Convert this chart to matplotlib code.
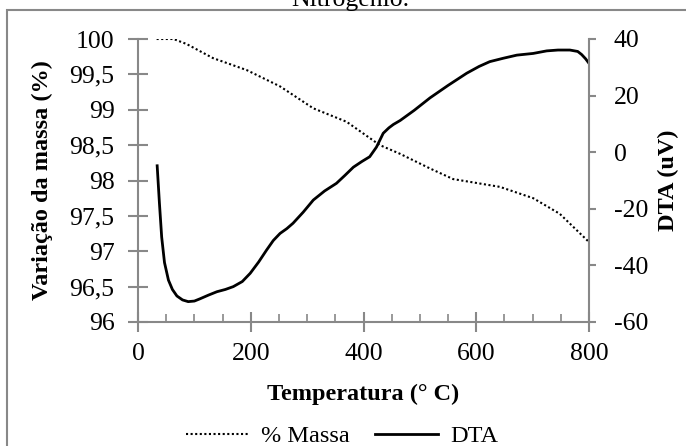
import matplotlib
matplotlib.use('Agg')
import matplotlib.pyplot as plt
from matplotlib.patches import Rectangle
from matplotlib.ticker import FuncFormatter, MultipleLocator

plt.rcParams['font.family'] = ['Liberation Serif', 'DejaVu Serif']
plt.rcParams['axes.unicode_minus'] = False

# % Massa (dotted), left axis
temp_mass = [33, 63, 86, 133, 193, 252, 311, 370, 429, 464, 518, 559, 642, 701, 748, 800]
mass = [100.0, 100.0, 99.93, 99.73, 99.56, 99.33, 99.02, 98.83, 98.50, 98.38,
        98.17, 98.02, 97.91, 97.75, 97.53, 97.13]

# DTA (solid), right axis
temp_dta = [34, 38, 42, 47, 54, 61, 69, 79, 89, 100, 110, 125, 140, 155, 169, 185,
            199, 214, 228, 240, 252, 264, 275, 293, 311, 331, 352, 367, 382, 397,
            411, 423, 435, 445, 453, 465, 490, 518, 550, 583, 605, 624, 648, 672,
            701, 725, 745, 766, 780, 787, 794, 800]
dta = [-4.8, -18, -30, -39, -45.2, -48.5, -50.8, -52.2, -52.8, -52.6, -51.8, -50.5,
       -49.3, -48.5, -47.5, -45.7, -42.8, -38.8, -34.6, -31.2, -28.7, -27.0, -25.1,
       -21.2, -16.9, -13.7, -11.0, -8.2, -5.3, -3.3, -1.6, 1.8, 6.7, 8.6, 9.8, 11.2,
       14.8, 19.2, 23.6, 27.9, 30.3, 32.0, 33.2, 34.3, 34.9, 35.8, 36.1, 36.1, 35.6,
       34.5, 33.0, 31.4]

grey = '#888888'
tick_fs = 18.5
label_fs = 17.5

fig = plt.figure(figsize=(6.86, 4.46), dpi=100)
ax = fig.add_axes([138 / 686, 1 - 322 / 446, (589 - 138) / 686, (322 - 39) / 446])
ax2 = ax.twinx()

l1, = ax.plot(temp_mass, mass, color='black', linestyle=(0, (1, 1.2)), linewidth=1.5,
              label='% Massa')
l2, = ax2.plot(temp_dta, dta, color='black', linestyle='-', linewidth=2.0, label='DTA')

ax.set_xlim(0, 800)
ax.set_ylim(96, 100)
ax2.set_ylim(-60, 40)

ax.xaxis.set_major_locator(MultipleLocator(200))
ax.xaxis.set_minor_locator(MultipleLocator(50))
ax.yaxis.set_major_locator(MultipleLocator(0.5))
ax2.yaxis.set_major_locator(MultipleLocator(20))
ax.yaxis.set_major_formatter(FuncFormatter(lambda v, p: f'{v:g}'.replace('.', ',')))

for a in (ax, ax2):
    a.spines['top'].set_visible(False)
    for s in a.spines.values():
        s.set_color(grey)
        s.set_linewidth(1.5)
    a.tick_params(colors=grey, labelcolor='black', labelsize=tick_fs, width=1.5)
ax.spines['right'].set_visible(False)
ax2.spines['left'].set_visible(False)
ax2.spines['bottom'].set_visible(False)

ax.tick_params(axis='y', direction='inout', length=14, pad=10)
ax.tick_params(axis='x', which='major', direction='inout', length=14, pad=8)
ax.tick_params(axis='x', which='minor', direction='in', length=6, width=1.2, colors=grey)
ax2.tick_params(axis='y', direction='out', length=5, pad=13)

ax.set_xlabel('Temperatura (° C)', fontsize=label_fs, fontweight='bold', labelpad=14)
ax.set_ylabel('Variação da massa (%)', fontsize=label_fs, fontweight='bold', labelpad=12)
ax2.set_ylabel('DTA (uV)', fontsize=label_fs, fontweight='bold', labelpad=7)

fig.legend(handles=[l1, l2], loc='center', bbox_to_anchor=(342 / 686, 1 - 436 / 446),
           ncol=2, frameon=False, fontsize=label_fs, handlelength=2.6,
           columnspacing=1.0, handletextpad=0.5)

fig.text(350 / 686, 1 - 6 / 446, 'Nitrogênio.', ha='center', va='baseline',
         fontsize=tick_fs)
fig.patches.append(Rectangle((7 / 686, -0.1), 1.2, 1 - 10 / 446 + 0.1,
                             transform=fig.transFigure, fill=False,
                             edgecolor=grey, linewidth=1.5))

fig.savefig('out.png', dpi=100)
